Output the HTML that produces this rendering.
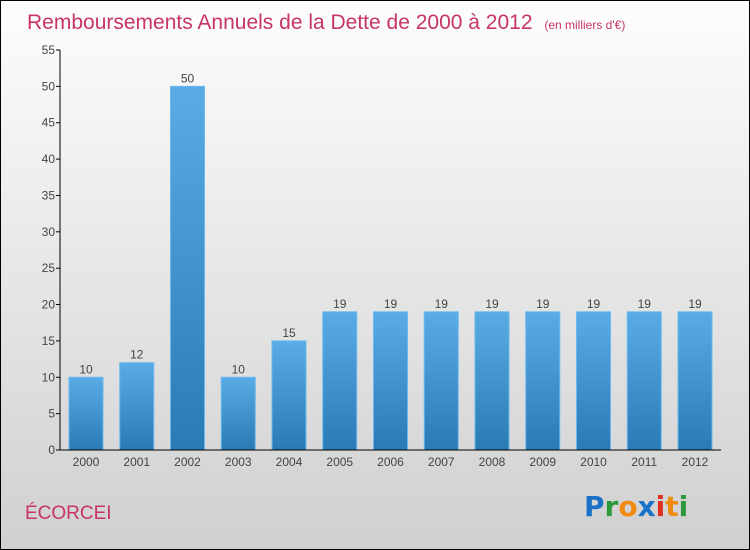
<!DOCTYPE html>
<html><head><meta charset="utf-8"><style>
body{margin:0}
#c{position:relative;width:748px;height:548px;border:1px solid #000;background:linear-gradient(#fdfdfd,#d0d0d0);font-family:"Liberation Sans",sans-serif;overflow:hidden}
</style></head><body>
<div id="c">
<svg id="s" width="748" height="548">
<defs><linearGradient id="g" x1="0" y1="0" x2="0" y2="1"><stop offset="0" stop-color="#5aace6"/><stop offset="1" stop-color="#2a7ab5"/></linearGradient></defs>
<text x="26" y="28" font-size="21" fill="#c8336a">Remboursements Annuels de la Dette de 2000 à 2012 <tspan font-size="12" dx="6">(en milliers d'€)</tspan></text>
<text x="24" y="518" font-size="19" fill="#c8336a">ÉCORCEI</text>
<g font-size="28" font-weight="bold" font-family="'DejaVu Sans',sans-serif"><text x="583" y="515"><tspan fill="#1a72c8">P</tspan><tspan fill="#2a9a3a">r</tspan><tspan fill="#f08a10">o</tspan><tspan fill="#1a72c8">x</tspan><tspan fill="#e03020">i</tspan><tspan fill="#f08a10">t</tspan><tspan fill="#2a9a3a">i</tspan></text></g>
<g id="plot"></g>
</svg></div>
<script>
const years=["2000","2001","2002","2003","2004","2005","2006","2007","2008","2009","2010","2011","2012"];
const values=[10,12,50,10,15,19,19,19,19,19,19,19,19];
const ticks=[0,5,10,15,20,25,30,35,40,45,50,55];
const NS="http://www.w3.org/2000/svg",p=document.getElementById("plot");
const x0=59,y0=449,yTop=49,ymax=55,step=50.75;
const y=v=>y0-(v/ymax)*(y0-yTop);
const xc=i=>85+i*step;
function mk(t,a,txt){const e=document.createElementNS(NS,t);for(const k in a)e.setAttribute(k,a[k]);if(txt!=null)e.textContent=txt;p.appendChild(e);return e;}
ticks.forEach(t=>{
const l=mk("line",{x1:x0-4,x2:x0,y1:y(t),y2:y(t),stroke:"#000"});


const tx=mk("text",{x:x0-5,y:y(t)+4,"font-size":12,fill:"#444","text-anchor":"end"},t);


});
values.forEach((v,i)=>{
const r=mk("rect",{x:xc(i)-17,y:y(v),width:34,height:y0-y(v),fill:"url(#g)",stroke:"#6ab8ee","stroke-width":1});


const lb=mk("text",{x:xc(i),y:y(v)-4,"font-size":12,fill:"#444","text-anchor":"middle"},v);


const xl=mk("text",{x:xc(i),y:y0+16,"font-size":12,fill:"#444","text-anchor":"middle"},years[i]);


});
const ya=mk("line",{x1:x0,x2:x0,y1:yTop,y2:y0,stroke:"#000"});


const xa=mk("line",{x1:x0,x2:720,y1:y0,y2:y0,stroke:"#000"});


</script>
</body></html>
